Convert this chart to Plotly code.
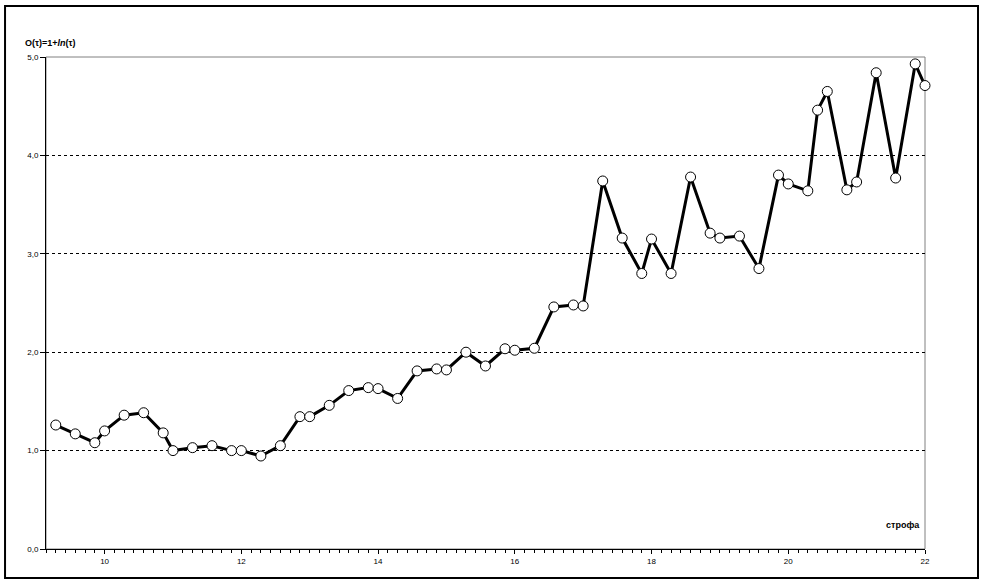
import plotly.graph_objects as go

# stanza positions (x) and O(tau) values (y)
x_vals = [9.286, 9.571, 9.857, 10.0, 10.286, 10.571, 10.857, 11.0,
          11.286, 11.571, 11.857, 12.0, 12.286, 12.571, 12.857, 13.0,
          13.286, 13.571, 13.857, 14.0, 14.286, 14.571, 14.857, 15.0,
          15.286, 15.571, 15.857, 16.0, 16.286, 16.571, 16.857, 17.0,
          17.286, 17.571, 17.857, 18.0, 18.286, 18.571, 18.857, 19.0,
          19.286, 19.571, 19.857, 20.0, 20.286, 20.429, 20.571, 20.857,
          21.0, 21.286, 21.571, 21.857, 22.0]
y_vals = [1.26, 1.17, 1.08, 1.20, 1.36, 1.385, 1.18, 1.00,
          1.03, 1.05, 1.00, 1.00, 0.945, 1.05, 1.345, 1.345,
          1.46, 1.61, 1.64, 1.63, 1.53, 1.81, 1.83, 1.82,
          2.00, 1.86, 2.035, 2.02, 2.04, 2.46, 2.48, 2.47,
          3.74, 3.16, 2.80, 3.15, 2.80, 3.78, 3.21, 3.16,
          3.18, 2.85, 3.80, 3.71, 3.64, 4.46, 4.65, 3.65,
          3.73, 4.84, 3.77, 4.93, 4.71]

x_ticks = [10, 12, 14, 16, 18, 20, 22]
x_tick_labels = ["10", "12", "14", "16", "18", "20", "22"]
y_ticks = [0, 1, 2, 3, 4, 5]
y_tick_labels = ["0,0", "1,0", "2,0", "3,0", "4,0", "5,0"]

FONT = "Liberation Sans, Arial, sans-serif"

fig = go.Figure()
fig.add_trace(go.Scatter(
    x=x_vals, y=y_vals, mode="lines+markers",
    line=dict(color="black", width=3),
    marker=dict(symbol="circle", size=10, color="white",
                line=dict(color="black", width=1)),
    showlegend=False, cliponaxis=False, hoverinfo="skip",
))

fig.update_layout(
    width=984, height=583,
    margin=dict(l=46, r=59, t=57, b=34, autoexpand=False),
    paper_bgcolor="white", plot_bgcolor="white",
    font=dict(family=FONT, size=8, color="black"),
    xaxis=dict(
        range=[64 / 7, 22], tickvals=x_ticks, ticktext=x_tick_labels,
        ticks="outside", ticklen=4, tickcolor="black", tickwidth=1,
        showline=True, linecolor="black", linewidth=1,
        showgrid=False, zeroline=False,
        minor=dict(tick0=64 / 7, dtick=1 / 7, ticks="outside", ticklen=3,
                   tickcolor="black", tickwidth=1, showgrid=False),
        tickfont=dict(family=FONT, size=8, color="black"),
    ),
    yaxis=dict(
        range=[0, 5], tickvals=y_ticks, ticktext=y_tick_labels,
        ticks="outside", ticklen=5, tickcolor="black", tickwidth=1,
        showline=True, linecolor="black", linewidth=1,
        showgrid=True, gridcolor="black", gridwidth=1, griddash="3px,3px",
        zeroline=False,
        tickfont=dict(family=FONT, size=8, color="black"),
    ),
    shapes=[
        dict(type="rect", xref="paper", yref="paper", x0=0, x1=1, y0=0, y1=1,
             line=dict(color="#808080", width=1), layer="between"),
        dict(type="rect", xref="paper", yref="paper",
             x0=-0.0466, x1=1.0603, y0=-0.0589, y1=1.1037,
             line=dict(color="black", width=2), layer="below"),
    ],
    annotations=[
        dict(text="<b>O(τ)=1+<i>ln</i>(τ)</b>", xref="paper", yref="paper",
             x=-0.0265, y=1.029, xanchor="left", yanchor="middle",
             showarrow=False, font=dict(family=FONT, size=9, color="black")),
        dict(text="<b>строфа</b>", xref="paper", yref="paper",
             x=0.9966, y=0.0488, xanchor="right", yanchor="middle",
             showarrow=False, font=dict(family=FONT, size=9, color="black")),
    ],
)

fig.write_html(
    "out.html",
    config={"displayModeBar": False, "staticPlot": True},
    post_script="document.body.style.margin='0';document.body.style.overflow='hidden';",
)
